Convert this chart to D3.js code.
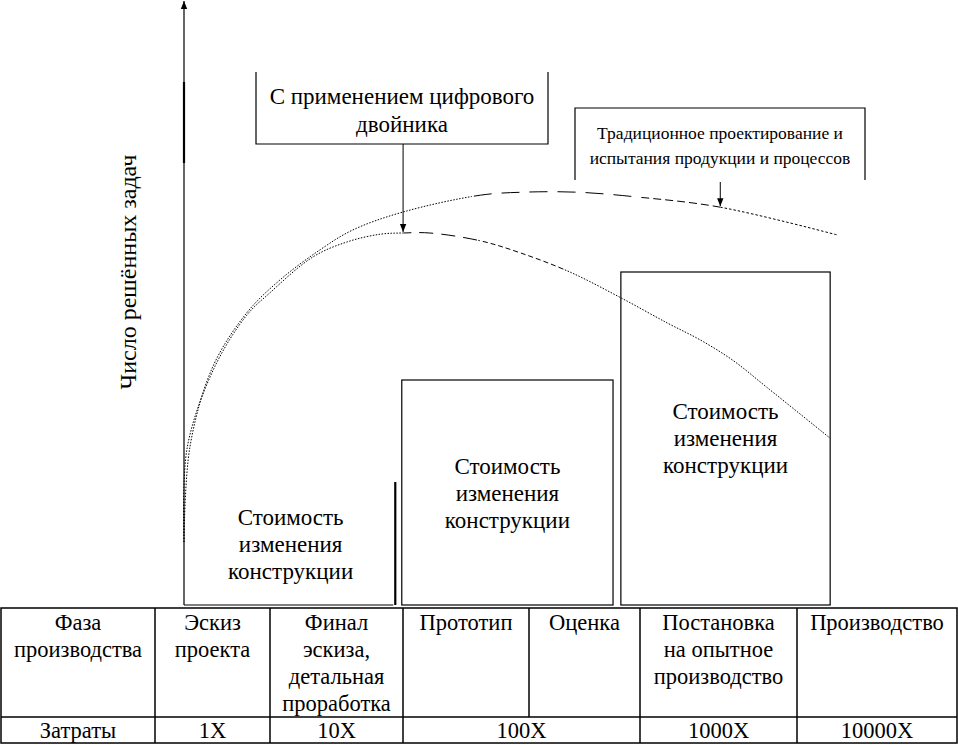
<!DOCTYPE html>
<html>
<head>
<meta charset="utf-8">
<script src="https://cdn.jsdelivr.net/npm/d3@7"></script>
<style>
  body { margin: 0; background: #fff; }
  svg, svg text { font-family: "Liberation Serif", "Times New Roman", Tinos, serif; }
</style>
</head>
<body>
<svg id="chart" width="958" height="745"></svg>
<script>
// curve: traditional design & testing
const tradX = [0, 0.9, 4.4, 9.6, 14.7, 20.8, 25.8, 33.5, 45.3, 51.8, 60.1, 69.3, 82.0, 99.8];
const tradY = [10.5, 26.3, 39.7, 48.7, 54.2, 59.2, 62.5, 65.5, 68.3, 68.8, 68.8, 68.0, 66.3, 61.7];
// curve: with digital twin
const twinX = [0, 0.5, 4.7, 9.6, 13.1, 19.7, 24.9, 30, 33.5, 37.6, 45.3, 51.4, 59, 66.8, 73.9, 78.9, 83.9, 89.1, 98.8];
const twinY = [10.5, 26.3, 39.7, 48.3, 52, 58, 60.5, 61.8, 62, 62, 60.7, 58.7, 55.5, 51.2, 47, 44.2, 40.8, 36.3, 27.8];

// cost-of-change boxes
const boxStart = [0, 33.3, 66.8];
const boxEnd = [32, 65.6, 98.8];
const boxLevel = [20.5, 37.5, 55.5];
const boxLabel = ['Стоимость', 'изменения', 'конструкции'];

// table
const phaseRow = [
  ['Фаза', 'производства'],
  ['Эскиз', 'проекта'],
  ['Финал', 'эскиза,', 'детальная', 'проработка'],
  ['Прототип'],
  ['Оценка'],
  ['Постановка', 'на опытное', 'производство'],
  ['Производство']
];
const costRow = ['Затраты', '1X', '10X', '100X', '1000X', '10000X'];
const costSpan = [1, 1, 1, 2, 1, 1];

const svg = d3.select('#chart');
const x = d3.scaleLinear().domain([0, 100]).range([184, 838]);
const y = d3.scaleLinear().domain([0, 100]).range([605, 5]);

const defs = svg.append('defs');
defs.append('marker')
    .attr('id', 'arr')
    .attr('viewBox', '0 -5 10 10')
    .attr('refX', 10)
    .attr('refY', 0)
    .attr('orient', 'auto')
    .attr('markerUnits', 'userSpaceOnUse')
    .attr('markerWidth', 9)
    .attr('markerHeight', 8)
    .append('path')
    .attr('d', 'M0,-4L10,0L0,4Z')
    .attr('fill', '#000');

// y axis
svg.append('line')
    .attr('x1', x(0)).attr('x2', x(0))
    .attr('y1', y(0)).attr('y2', 1)
    .attr('stroke', '#000').attr('stroke-width', 1.2)
    .attr('marker-end', 'url(#arr)');
svg.append('line')
    .attr('x1', x(0)).attr('x2', x(0))
    .attr('y1', 82).attr('y2', 163)
    .attr('stroke', '#000').attr('stroke-width', 2.2);

svg.append('text')
    .attr('transform', 'translate(136,272) rotate(-90)')
    .attr('text-anchor', 'middle')
    .attr('font-size', 24)
    .text('Число решённых задач');

// boxes
const boxes = svg.append('g');
boxes.selectAll('rect')
    .data(boxStart.slice(1))
    .enter()
    .append('rect')
    .attr('x', (d, i) => x(d))
    .attr('y', (d, i) => y(boxLevel[i + 1]))
    .attr('width', (d, i) => x(boxEnd[i + 1]) - x(d))
    .attr('height', (d, i) => y(0) - y(boxLevel[i + 1]))
    .attr('fill', 'none')
    .attr('stroke', '#000')
    .attr('stroke-width', 1.2);
// first box: axis on the left, no top
boxes.append('path')
    .attr('d', `M${x(boxStart[0])},${y(0)}H${x(boxEnd[0])}`)
    .attr('stroke', '#000').attr('stroke-width', 1.2);
boxes.append('line')
    .attr('x1', x(boxEnd[0]) + 2).attr('x2', x(boxEnd[0]) + 2)
    .attr('y1', y(boxLevel[0])).attr('y2', y(0))
    .attr('stroke', '#000').attr('stroke-width', 2.2);

const labelTop = [500, 449, 394];
boxStart.forEach((s, i) => {
    const cx = (x(s) + x(boxEnd[i])) / 2 + (i === 0 ? 2 : 0);
    const t = boxes.append('text')
        .attr('text-anchor', 'middle')
        .attr('font-size', 23);
    boxLabel.forEach((w, j) => {
        t.append('tspan')
            .attr('x', cx)
            .attr('y', labelTop[i] + 25 + j * 27)
            .text(w);
    });
});

// curves, drawn in stretches with different dash styles
const line = d3.line()
    .x(d => x(d[0]))
    .y(d => y(d[1]))
    .curve(d3.curveCatmullRom.alpha(0.5));

function clipBand(id, x0, x1) {
    defs.append('clipPath').attr('id', id)
        .append('rect')
        .attr('x', x(x0)).attr('y', 0)
        .attr('width', x(x1) - x(x0)).attr('height', 745);
}

function dashedCurve(pts, stretches, key) {
    stretches.forEach((s, i) => {
        clipBand(key + i, s[0], s[1]);
        svg.append('path')
            .datum(pts)
            .attr('d', line)
            .attr('clip-path', `url(#${key + i})`)
            .attr('fill', 'none')
            .attr('stroke', '#000')
            .attr('stroke-width', 1)
            .attr('stroke-dasharray', s[2]);
    });
}

dashedCurve(d3.zip(tradX, tradY), [
    [-1, 44, '1.5,1.5'],
    [44, 70, '18,10'],
    [70, 82, '8,4'],
    [82, 101, '2.5,2']
], 'tr');

dashedCurve(d3.zip(twinX, twinY), [
    [-1, 33.6, '1.5,1.5'],
    [33.6, 45, '14,8'],
    [45, 58, '5,3'],
    [58, 101, '1.5,1.5']
], 'tw');

// callout: digital twin
svg.append('path')
    .attr('d', 'M256,72V144H548V72')
    .attr('fill', 'none').attr('stroke', '#000').attr('stroke-width', 1.2);
svg.append('text')
    .attr('text-anchor', 'middle')
    .attr('font-size', 23)
    .selectAll('tspan')
    .data(['С применением цифрового', 'двойника'])
    .enter()
    .append('tspan')
    .attr('x', 402)
    .attr('y', (d, i) => 104 + i * 28)
    .text(d => d);
svg.append('line')
    .attr('x1', x(33.5)).attr('x2', x(33.5))
    .attr('y1', 144).attr('y2', y(62) - 1)
    .attr('stroke', '#000').attr('stroke-width', 1)
    .attr('marker-end', 'url(#arr)');

// callout: traditional
svg.append('path')
    .attr('d', 'M575,180V108H865V180')
    .attr('fill', 'none').attr('stroke', '#000').attr('stroke-width', 1.2);
svg.append('text')
    .attr('text-anchor', 'middle')
    .attr('font-size', 17.5)
    .selectAll('tspan')
    .data(['Традиционное проектирование и', 'испытания продукции и процессов'])
    .enter()
    .append('tspan')
    .attr('x', 720)
    .attr('y', (d, i) => 139 + i * 25)
    .text(d => d);
svg.append('line')
    .attr('x1', x(82)).attr('x2', x(82))
    .attr('y1', 182).attr('y2', y(66.3) - 1)
    .attr('stroke', '#000').attr('stroke-width', 1)
    .attr('marker-end', 'url(#arr)');

// table
const colEdges = [1, 155, 270, 403, 529, 640, 797, 957];
const rowTop = 608, rowMid = 717, rowBot = 743;
const tbl = svg.append('g').attr('stroke', '#000').attr('stroke-width', 1.5);
tbl.append('rect')
    .attr('x', colEdges[0]).attr('y', rowTop)
    .attr('width', colEdges[7] - colEdges[0]).attr('height', rowBot - rowTop)
    .attr('fill', 'none');
tbl.append('line')
    .attr('x1', colEdges[0]).attr('x2', colEdges[7])
    .attr('y1', rowMid).attr('y2', rowMid);
colEdges.slice(1, -1).forEach(cx => {
    tbl.append('line')
        .attr('x1', cx).attr('x2', cx)
        .attr('y1', rowTop)
        .attr('y2', cx === colEdges[4] ? rowMid : rowBot);
});

phaseRow.forEach((lines, i) => {
    const cx = (colEdges[i] + colEdges[i + 1]) / 2;
    const t = svg.append('text')
        .attr('text-anchor', 'middle')
        .attr('font-size', 22.5);
    lines.forEach((w, j) => {
        t.append('tspan')
            .attr('x', cx)
            .attr('y', 630 + j * 27)
            .text(w);
    });
});

let ci = 0;
costRow.forEach((c, i) => {
    const l = colEdges[ci], r = colEdges[ci + costSpan[i]];
    ci += costSpan[i];
    svg.append('text')
        .attr('x', (l + r) / 2)
        .attr('y', 738)
        .attr('text-anchor', 'middle')
        .attr('font-size', 22.5)
        .text(c);
});
</script>
</body>
</html>
